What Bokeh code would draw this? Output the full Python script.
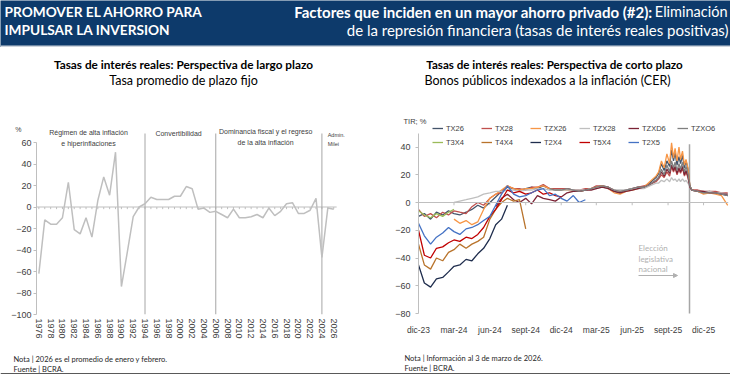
import pandas as pd
from bokeh.plotting import figure
from bokeh.layouts import column, row
from bokeh.models import (Label, FixedTicker, Legend, LegendItem, BoxAnnotation,
                          Arrow, NormalHead, Range1d, LinearAxis, Span)
from bokeh.embed import file_html
from bokeh.resources import INLINE

# ---------------- data: long-term real rate (plazo fijo) ----------------
years = list(range(1976, 2027))
real_rate = [-62, -12, -16, -16, -10, 23, -21, -25, -10, -28,
             6, 28, 11, 51, -74, -42, -9, 0, 3, 9,
             7, 7, 7, 10, 10, 19, 17, -2, -1, -5,
             -4, -7, -10, -2, -10, -10, -9, -7, -10, -1,
             -8, -4, 3, 4, -6, -6, -3, 8, -47, -1, -2]
regime_breaks = [1994, 2006, 2024]

# ---------------- data: CER bonds real yield (TIR, %) ----------------
dates = ["2023-12-01", "2023-12-16", "2024-01-01", "2024-01-16", "2024-02-01", "2024-02-16",
         "2024-03-01", "2024-03-16", "2024-04-01", "2024-04-16", "2024-05-01", "2024-05-16",
         "2024-06-01", "2024-06-16", "2024-07-01", "2024-07-16", "2024-08-01", "2024-08-16",
         "2024-09-01", "2024-09-16", "2024-10-01", "2024-10-16", "2024-11-01", "2024-11-16",
         "2024-12-01", "2024-12-16", "2025-01-01", "2025-01-16", "2025-02-01", "2025-02-16",
         "2025-03-01", "2025-03-16", "2025-04-01", "2025-04-16", "2025-05-01", "2025-05-16",
         "2025-06-01", "2025-06-16", "2025-07-01", "2025-07-16", "2025-08-01", "2025-08-08",
         "2025-08-15", "2025-08-22", "2025-08-29", "2025-09-05", "2025-09-10", "2025-09-15",
         "2025-09-19", "2025-09-24", "2025-09-29", "2025-10-03", "2025-10-08", "2025-10-13",
         "2025-10-17", "2025-10-22", "2025-10-27", "2025-11-01", "2025-11-16", "2025-12-01",
         "2025-12-16", "2026-01-01", "2026-01-16", "2026-02-01"]
N = None
TX26 = [-10, -8, -12, -7, -9, -6, -8, -9, -7, -5, -2, -4, 0, 4,
        8, 11, 10, 9, 10, 11, 10, 12, 10, 9, 9, 10, 9, 8, 9, 10, 11, 12, 11, 8, 7, 9, 10, 11, 11, 14,
        18, 21, 28, 23, 30, 26, 38, 30, 36, 27, 33, 28, 34, 25, 30, 24, 12, 9, 8, 7, 8, 7, 6, 5]
TX28 = [-5, -10, -8, -11, -7, -9, -6, -7, -8, -3, 0, -2, 3, 6,
        7, 12, 10, 10, 9, 11, 11, 13, 10, 10, 10, 10, 9, 9, 10, 10, 12, 12, 11, 9, 8, 9, 10, 11, 12, 13,
        15, 17, 20, 18, 22, 19, 26, 22, 25, 20, 24, 21, 25, 19, 22, 18, 11, 9, 9, 8, 8, 8, 7, 7]
TZX26 = [N, N, N, N, N, N, -12, -15, -13, -16, -14, -5, 3, 6,
         9, 12, 10, 9, 10, 10, 11, 12, 10, 9, 9, 9, 8, 8, 9, 10, 11, 12, 10, 7, 6, 8, 9, 10, 11, 15,
         19, 22, 30, 25, 35, 28, 43, 32, 39, 30, 40, 31, 37, 27, 31, 25, 12, 9, 8, 6, 7, 6, 5, -2]
TZX28 = [N, N, N, N, N, N, 0, 1, 2, 3, 4, 6, 7, 8,
         8, 9, 9, 8, 9, 9, 10, 10, 9, 9, 9, 9, 9, 9, 9, 10, 10, 11, 10, 9, 9, 9, 10, 10, 10, 12,
         14, 14, 16, 15, 17, 15, 18, 16, 17, 15, 17, 15, 17, 15, 16, 14, 11, 9, 8, 8, 8, 7, 7, 6]
TZXD6 = [N, N, N, N, N, N, N, N, N, N, N, N, N, -3,
         3, 6, 2, 0, 3, -1, 5, 3, 2, 1, 4, 7, 8, 8, 9, 9, 10, 11, 10, 8, 7, 8, 9, 10, 11, 13,
         16, 18, 22, 19, 24, 21, 27, 23, 26, 21, 25, 22, 26, 20, 23, 19, 11, 9, 8, 8, 7, 7, 6, 6]
TZXO6 = [N, N, N, N, N, N, N, N, N, N, N, N, N, N,
         N, N, N, N, N, N, N, N, 10, 9, 9, 10, 9, 8, 9, 10, 11, 12, 11, 9, 8, 9, 10, 11, 11, 13,
         16, 18, 24, 20, 27, 22, 30, 25, 29, 23, 28, 24, 29, 22, 26, 21, 12, 9, 8, 7, 7, 7, 6, 5]
T3X4 = [-6, -9, -11, -8, -10, -7, -5]
T4X4 = [-30, -45, -48, -40, -42, -36, -34, -30, -33, -30, -28, -25, -12, -5, 0, 3, 1, 2, -19]
T2X4 = [-45, -58, -61, -55, -54, -50, -46, -45, -41, -42, -37, -33, -26, -16, -12, -2]
T5X4 = [-20, -38, -40, -33, -32, -29, -27, -28, -25, -26, -23, -18, -10, -5, 2, 9, 7, 8, 6, 7,
        9, 6, 7, 5, 4]
T2X5 = [-15, -24, -30, -25, -22, -18, -21, -23, -19, -18, -16, -13, -10, -2, 6, 12, 6, 4, 5, 7,
        9, 10, 5, 6, 3, 1, 5, 0, 2]

series_names = ["TX26", "TX28", "TZX26", "TZX28", "TZXD6", "TZXO6",
                "T3X4", "T4X4", "T2X4", "T5X4", "T2X5"]
series_values = [TX26, TX28, TZX26, TZX28, TZXD6, TZXO6, T3X4, T4X4, T2X4, T5X4, T2X5]
series_colors = ["#44546a", "#c0504d", "#f79646", "#bfbfbf", "#7b2335", "#7f7f7f",
                 "#9bbb59", "#b8732b", "#1f2d4d", "#c00000", "#4472c4"]

tick_dates = ["2023-12-01", "2024-03-01", "2024-06-01", "2024-09-01", "2024-12-01",
              "2025-03-01", "2025-06-01", "2025-09-01", "2025-12-01"]
tick_labels = ["dic-23", "mar-24", "jun-24", "sept-24", "dic-24",
               "mar-25", "jun-25", "sept-25", "dic-25"]
election_date = "2025-10-26"

# ---------------- styling ----------------
BANNER = "#0d3a6b"
CAL = "Lato"
ARI = "Liberation Sans"
AXC = "#404040"
TOP, BOT = 125, 346          # page rows where the chart figures start / end
FR_BOT = 314                 # page row of the chart frames' bottom


def ms(d):
    return int(pd.Timestamp(d).value // 10**6)


def strip(w, h, bg="white"):
    f = figure(width=w, height=h, x_range=Range1d(0, w), y_range=Range1d(0, h),
               x_axis_location=None, y_axis_location=None, min_border=0,
               output_backend="svg", toolbar_location=None)
    f.grid.visible = False
    f.outline_line_color = None
    f.background_fill_color = bg
    f.border_fill_color = bg
    return f


def put(f, x, y, text, size, color="black", font=CAL, bold=False, align="left"):
    f.add_layout(Label(x=x, y=y, text=text, text_font=font, text_font_size=size,
                       text_font_style="bold" if bold else "normal", text_color=color,
                       text_align=align, text_baseline="middle"))


# ================= header (page rows 0..47) =================
ph = strip(730, 47, BANNER)
ph.add_layout(BoxAnnotation(bottom=0, top=2, left=0, right=730, fill_color="#cdd3dc",
                            fill_alpha=1, line_color=None))
hy = lambda py: 47 - py
put(ph, 4, hy(11), "PROMOVER EL AHORRO PARA", "13.7px", "white", bold=True)
put(ph, 4, hy(29), "IMPULSAR LA INVERSION", "13.7px", "white", bold=True)
put(ph, 727, hy(11), "Eliminación", "14.5px", "white", align="right")
put(ph, 652, hy(11), "Factores que inciden en un mayor ahorro privado (#2):", "15px", "white",
    bold=True, align="right")
put(ph, 728, hy(29), "de la represión financiera (tasas de interés reales positivas)", "15px",
    "white", align="right")

# ================= titles strip (page rows 47..TOP) =================
tt = strip(730, TOP - 47)
ty = lambda py: TOP - py
put(tt, 183, ty(64), "Tasas de interés reales: Perspectiva de largo plazo", "11.8px", bold=True,
    align="center")
put(tt, 183, ty(80), "Tasa promedio de plazo fijo", "12.5px", align="center")
put(tt, 554, ty(64), "Tasas de interés reales: Perspectiva de corto plazo", "11.6px", bold=True,
    align="center")
put(tt, 547, ty(80), "Bonos públicos indexados a la inflación (CER)", "12.5px", align="center")
put(tt, 403, ty(121), "TIR; %", "7.5px", AXC, font=ARI)

# ================= left chart =================
L_X0, L_X1 = 1975.6, 2028.0
L_Y0 = -100
L_Y1 = 60 + (142 - TOP) / 1.075
PX_YEAR = 300 / 50.9
p1 = figure(width=365, height=BOT - TOP, x_range=Range1d(L_X0, L_X1), y_range=Range1d(L_Y0, L_Y1),
            min_border_left=36, min_border_right=365 - 36 - round((L_X1 - L_X0) * PX_YEAR),
            min_border_top=0, min_border_bottom=BOT - FR_BOT,
            output_backend="svg", toolbar_location=None)


def lx(px):
    return L_X0 + (px - 36) / PX_YEAR


def ly(py):
    return L_Y1 - (py - TOP) * (L_Y1 - L_Y0) / (FR_BOT - TOP)


p1.grid.visible = False
p1.outline_line_color = None
ya = p1.yaxis[0]
ya.ticker = FixedTicker(ticks=list(range(-100, 61, 20)))
ya.bounds = (-100, 60)
ya.axis_line_color = "#bfbfbf"
ya.major_tick_line_color = "#bfbfbf"
ya.major_tick_out = 3
ya.major_tick_in = 0
ya.minor_tick_line_color = None
ya.major_label_standoff = 2
ya.major_label_text_font = ARI
ya.major_label_text_font_size = "9px"
ya.major_label_text_color = AXC
# unit label "%" drawn as the lone tick label of a second, invisible axis
p1.extra_y_ranges = {"unit": Range1d(L_Y0, L_Y1)}
pct_at = round(ly(128), 1)
ua = LinearAxis(y_range_name="unit", ticker=FixedTicker(ticks=[pct_at]),
                major_label_overrides={pct_at: "%"}, axis_line_color=None,
                major_tick_line_color=None, minor_tick_line_color=None,
                major_tick_out=0, major_tick_in=0, major_label_standoff=-13,
                major_label_text_font=ARI,
                major_label_text_font_size="7px", major_label_text_color=AXC)
p1.add_layout(ua, "left")

xa = p1.xaxis[0]
xa.ticker = FixedTicker(ticks=years[::2])
xa.axis_line_color = None
xa.major_tick_line_color = None
xa.minor_tick_line_color = None
xa.major_tick_out = 0
xa.major_tick_in = 0
xa.major_label_orientation = "vertical"
xa.major_label_standoff = 4
xa.major_label_text_font = ARI
xa.major_label_text_font_size = "9px"
xa.major_label_text_color = AXC

# zero line over the span of the year axis, with yearly tick marks
p1.segment(x0=[years[0] - 0.4], y0=[0], x1=[years[-1] + 0.5], y1=[0],
           line_color="#bfbfbf", line_width=1)
p1.segment(x0=years, y0=[0] * len(years), x1=years, y1=[-2] * len(years),
           line_color="#bfbfbf", line_width=1)
p1.segment(x0=regime_breaks, y0=[-100] * 3, x1=regime_breaks, y1=[ly(133)] * 3,
           line_color="#a6a6a6", line_width=1)
p1.line(years, real_rate, line_color="#bfbfbf", line_width=1.5)

for t, xx, yy in [("Régimen de alta inflación", 88, 132), ("e hiperinflaciones", 88, 143),
                  ("Convertibilidad", 178, 133), ("Dominancia fiscal y el regreso", 265, 131),
                  ("de la alta inflación", 265, 142)]:
    put(p1, lx(xx), ly(yy), t, "7px", AXC, font=ARI, align="center")
put(p1, lx(327), ly(134), "Admin.", "5.5px", AXC, font=ARI)
put(p1, lx(327), ly(143), "Milei", "5.5px", AXC, font=ARI)

# ================= right chart =================
R_X0, R_X1 = pd.Timestamp("2023-12-01"), pd.Timestamp("2026-02-03")
R_Y0 = -80 - (FR_BOT - 313) / 1.3875
R_Y1 = (202 - TOP) / 1.3875
p2 = figure(width=365, height=BOT - TOP, x_axis_type="datetime",
            x_range=Range1d(ms(R_X0), ms(R_X1)), y_range=Range1d(R_Y0, R_Y1),
            min_border_left=53, min_border_right=2, min_border_top=0,
            min_border_bottom=BOT - FR_BOT, output_backend="svg", toolbar_location=None)


def rx(px):
    return ms(R_X0) + (px - 418) * (ms(R_X1) - ms(R_X0)) / 310


def ry(py):
    return R_Y1 - (py - TOP) * (R_Y1 - R_Y0) / (FR_BOT - TOP)


p2.grid.visible = False
p2.outline_line_color = None
yb = p2.yaxis[0]
yb.ticker = FixedTicker(ticks=list(range(-80, 41, 20)))
yb.bounds = (-80, 50)
yb.axis_line_color = "#bfbfbf"
yb.major_tick_line_color = "#bfbfbf"
yb.major_tick_out = 3
yb.major_tick_in = 0
yb.minor_tick_line_color = None
yb.major_label_standoff = 5
yb.major_label_text_font = ARI
yb.major_label_text_font_size = "9px"
yb.major_label_text_color = AXC

tick_ms = [ms(d) for d in tick_dates]
xb = p2.xaxis[0]
xb.ticker = FixedTicker(ticks=tick_ms)
xb.major_label_overrides = {t: lab for t, lab in zip(tick_ms, tick_labels)}
xb.axis_line_color = None
xb.major_tick_line_color = None
xb.minor_tick_line_color = None
xb.major_tick_out = 0
xb.major_tick_in = 0
xb.major_label_standoff = 10
xb.major_label_text_font = ARI
xb.major_label_text_font_size = "8.5px"
xb.major_label_text_color = AXC

p2.add_layout(Span(location=0, dimension="width", line_color="#bfbfbf", line_width=1))
tick_dt = [pd.Timestamp(d) for d in tick_dates]
p2.segment(x0=tick_dt, y0=[0] * len(tick_dt), x1=tick_dt, y1=[-2] * len(tick_dt),
           line_color="#bfbfbf", line_width=1)
el = pd.Timestamp(election_date)
p2.segment(x0=[el], y0=[-80], x1=[el], y1=[42], line_color="#a6a6a6", line_width=1.5)

date_ts = [pd.Timestamp(d) for d in dates]
items = []
for name, vals, col in zip(series_names, series_values, series_colors):
    ys = [float("nan") if v is None else v for v in vals]
    r = p2.line(date_ts[:len(vals)], ys, line_color=col, line_width=1.3)
    items.append(LegendItem(label=name, renderers=[r]))

leg = Legend(items=items, location=(14, FR_BOT - 148), ncols=6, orientation="horizontal",
             glyph_width=11, glyph_height=12, label_height=12, label_width=33,
             label_standoff=3, spacing=2, padding=0, margin=0,
             border_line_alpha=0, background_fill_alpha=0,
             label_text_font=ARI, label_text_font_size="7.5px", label_text_color=AXC)
p2.add_layout(leg)

for t, yy in [("Elección", 247), ("legislativa", 258), ("nacional", 268)]:
    put(p2, rx(638), ry(yy), t, "8px", "#b0b0b0")
p2.add_layout(Arrow(end=NormalHead(size=4, fill_color="#b0b0b0", line_color="#b0b0b0"),
                    x_start=rx(638), y_start=ry(275), x_end=rx(677), y_end=ry(275),
                    line_color="#b0b0b0", line_width=1))

# ================= notes strip (page rows 346..374) =================
nt = strip(730, 374 - BOT)
ny = lambda py: 374 - py
nt.add_layout(BoxAnnotation(bottom=0, top=1.5, left=0, right=730, fill_color="#595959",
                            fill_alpha=1, line_color=None))
put(nt, 13, ny(359), "Nota | 2026 es el promedio de enero y febrero.", "7.5px", "#262626")
put(nt, 13, ny(369), "Fuente | BCRA.", "7.5px", "#262626")
put(nt, 404, ny(358), "Nota | Información al 3 de marzo de 2026.", "7.5px", "#262626")
put(nt, 404, ny(368), "Fuente | BCRA.", "7.5px", "#262626")

layout = column(ph, tt, row(p1, p2), nt)
open("out.html", "w").write(file_html(layout, INLINE))
